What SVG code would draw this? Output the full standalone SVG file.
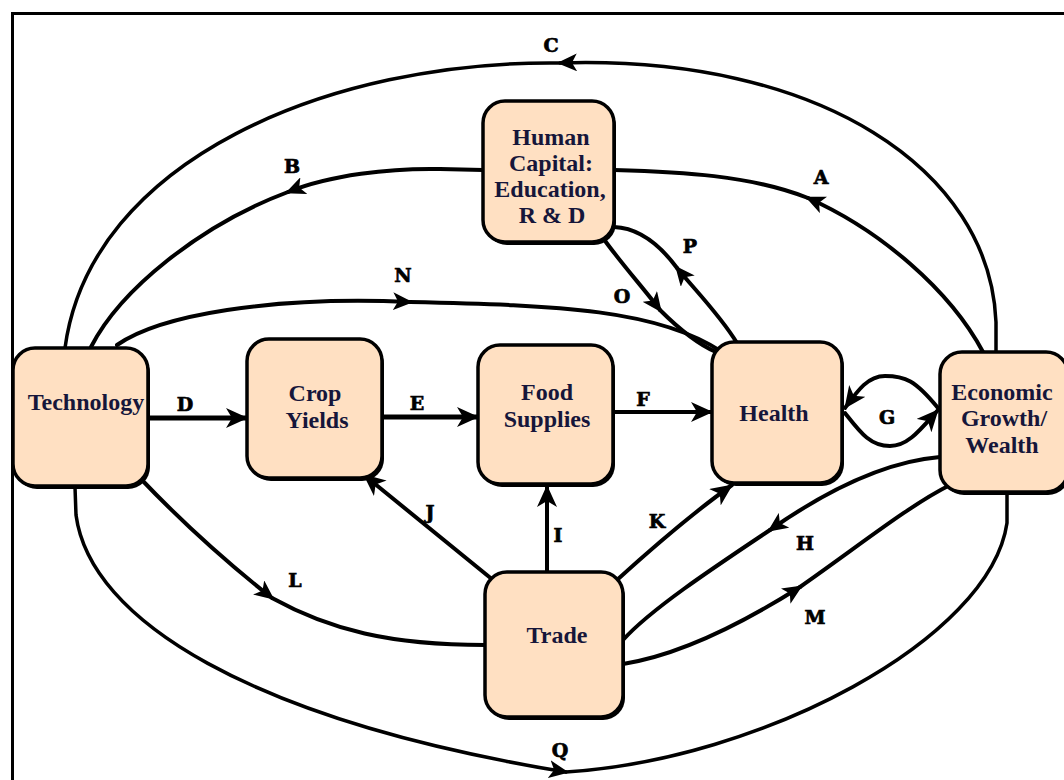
<svg xmlns="http://www.w3.org/2000/svg" width="1064" height="780" viewBox="0 0 1064 780">
<defs>
<marker id="ae" markerUnits="userSpaceOnUse" viewBox="0 0 22 20" refX="21" refY="10" markerWidth="22" markerHeight="20" orient="auto">
<path d="M0,0 L22,10 L0,20 L6,10 Z" fill="#000"/>
</marker>
<marker id="am" markerUnits="userSpaceOnUse" viewBox="0 0 20 18" refX="17" refY="9" markerWidth="20" markerHeight="18" orient="auto">
<path d="M0,0 L20,9 L0,18 L5,9 Z" fill="#000"/>
</marker>
</defs>
<style>
.sh{fill:#000}
.box{fill:#FFE0C2;stroke:#000;stroke-width:3.5}
.nt{font-family:"Liberation Serif","Times New Roman",serif;font-weight:bold;font-size:24px;fill:#16163a;text-anchor:middle}
.lb{font-family:"DejaVu Serif",serif;font-weight:900;font-size:19px;fill:#000;stroke:#000;stroke-width:0.7;text-anchor:middle}
.c{fill:none;stroke:#000;stroke-width:4;stroke-linecap:round;stroke-linejoin:round}
.t{stroke-width:5}
.o{stroke-width:3.5}
</style>
<rect width="1064" height="780" fill="#fff"/>
<g id="frame">
<path d="M12.5 780 L12.5 13.5 L1064 13.5" fill="none" stroke="#000" stroke-width="3"/>
</g>
<g id="connectors">
<!-- C -->
<path class="c o" d="M996 352 L996 322 C990 170 820 55 560 63" marker-end="url(#am)"/>
<path class="c o" d="M560 63 C330 60 90 160 65 348"/>
<!-- B -->
<path class="c" d="M483 170 L440 169 C390 168 330 175 288 192" marker-end="url(#am)"/>
<path class="c" d="M288 192 C200 225 120 290 91 347"/>
<!-- A -->
<path class="c" d="M983 352 C950 290 880 230 808 198" marker-end="url(#am)"/>
<path class="c" d="M808 198 C750 175 680 172 614 170"/>
<!-- N -->
<path class="c" d="M117 345 C160 315 270 296 410 302" marker-end="url(#am)"/>
<path class="c" d="M410 302 C560 305 660 310 722 352"/>
<!-- O -->
<path class="c" d="M603 238 C620 262 645 290 660 310" marker-end="url(#am)"/>
<path class="c" d="M660 310 C680 330 700 345 716 352"/>
<!-- P -->
<path class="c" d="M737 343 C720 315 695 290 677 268" marker-end="url(#am)"/>
<path class="c" d="M677 268 C660 245 640 228 614 227"/>
<!-- D E F -->
<path class="c t" d="M148 418 L247 418" marker-end="url(#ae)"/>
<path class="c t" d="M382 417 L478 417" marker-end="url(#ae)"/>
<path class="c" d="M613 412 L712 412" marker-end="url(#ae)"/>
<!-- G -->
<path class="c" d="M938 408 C915 380 905 376 885 376 C868 376 858 390 845 408" marker-end="url(#ae)"/>
<path class="c" d="M845 413 C860 432 870 446 890 446 C908 446 920 430 938 410" marker-end="url(#ae)"/>
<!-- I J K -->
<path class="c" d="M547 572 L547 486" marker-end="url(#ae)"/>
<path class="c" d="M493 580 L364 475" marker-end="url(#ae)"/>
<path class="c" d="M617 580 C650 550 690 515 732 485" marker-end="url(#ae)"/>
<!-- H -->
<path class="c" d="M940 457 C880 462 820 495 770 530" marker-end="url(#am)"/>
<path class="c" d="M770 530 C710 570 650 610 623 640"/>
<!-- M -->
<path class="c" d="M623 664 C680 655 740 625 800 587" marker-end="url(#am)"/>
<path class="c" d="M800 587 C860 545 910 505 950 485"/>
<!-- L -->
<path class="c" d="M140 478 C180 520 230 565 272 598" marker-end="url(#am)"/>
<path class="c" d="M272 598 C330 630 390 645 485 645"/>
<!-- Q -->
<path class="c o" d="M75 487 L76 515 C90 620 250 720 566 772" marker-end="url(#am)"/>
<path class="c o" d="M566 772 C760 760 990 640 1007 523 L1007 493"/>
</g>
<g id="labels">
<text class="lb" x="551" y="52">C</text>
<text class="lb" x="292" y="173">B</text>
<text class="lb" x="821" y="184">A</text>
<text class="lb" x="403" y="282">N</text>
<text class="lb" x="690" y="253">P</text>
<text class="lb" x="622" y="303">O</text>
<text class="lb" x="185" y="411">D</text>
<text class="lb" x="417" y="410">E</text>
<text class="lb" x="643" y="406">F</text>
<text class="lb" x="887" y="424">G</text>
<text class="lb" x="430" y="519">J</text>
<text class="lb" x="558" y="542">I</text>
<text class="lb" x="657" y="528">K</text>
<text class="lb" x="805" y="550">H</text>
<text class="lb" x="295" y="587">L</text>
<text class="lb" x="815" y="624">M</text>
<text class="lb" x="560" y="757">Q</text>
</g>
<g id="human-capital">
<rect class="sh" x="485" y="104" width="131" height="141" rx="22"/>
<rect class="box" x="483" y="101" width="131" height="141" rx="22"/>
<text class="nt" x="551" y="145">Human</text>
<text class="nt" x="551" y="171">Capital:</text>
<text class="nt" x="550" y="197">Education,</text>
<text class="nt" x="552" y="223">R &amp; D</text>
</g>
<g id="technology">
<rect class="sh" x="15" y="351" width="135" height="138" rx="22"/>
<rect class="box" x="13" y="348" width="135" height="138" rx="22"/>
<text class="nt" x="86" y="410">Technology</text>
</g>
<g id="crop-yields">
<rect class="sh" x="249" y="342" width="135" height="139" rx="22"/>
<rect class="box" x="247" y="339" width="135" height="139" rx="22"/>
<text class="nt" x="315" y="401">Crop</text>
<text class="nt" x="317" y="428">Yields</text>
</g>
<g id="food-supplies">
<rect class="sh" x="480" y="348" width="135" height="139" rx="22"/>
<rect class="box" x="478" y="345" width="135" height="139" rx="22"/>
<text class="nt" x="547" y="400">Food</text>
<text class="nt" x="547" y="427">Supplies</text>
</g>
<g id="health">
<rect class="sh" x="714" y="345" width="130" height="141" rx="22"/>
<rect class="box" x="712" y="342" width="130" height="141" rx="22"/>
<text class="nt" x="774" y="421">Health</text>
</g>
<g id="economic-growth">
<rect class="sh" x="942" y="355" width="128" height="140" rx="22"/>
<rect class="box" x="940" y="352" width="128" height="140" rx="22"/>
<text class="nt" x="1002" y="400">Economic</text>
<text class="nt" x="1004" y="426">Growth/</text>
<text class="nt" x="1002" y="453">Wealth</text>
</g>
<g id="trade">
<rect class="sh" x="487" y="575" width="138" height="145" rx="22"/>
<rect class="box" x="485" y="572" width="138" height="145" rx="22"/>
<text class="nt" x="557" y="643">Trade</text>
</g>
</svg>
